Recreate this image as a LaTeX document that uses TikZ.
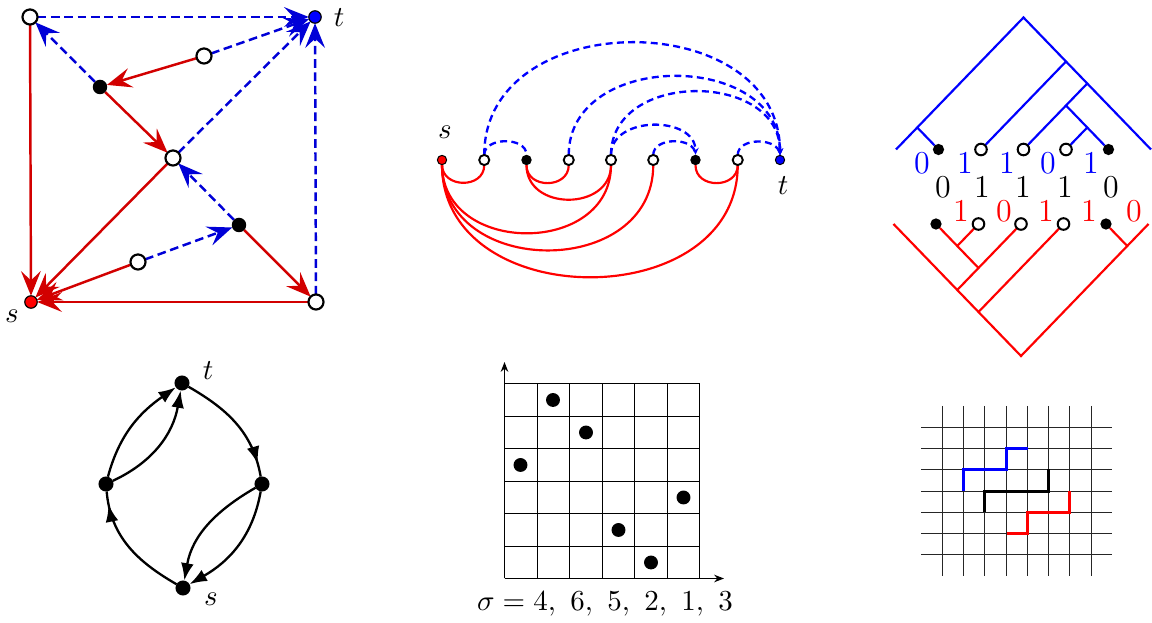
\documentclass[tikz,border=0pt]{standalone}
\usetikzlibrary{arrows.meta,decorations.markings,backgrounds}
\definecolor{dred}{RGB}{210,0,0}
\definecolor{dblue}{RGB}{0,0,215}
\begin{document}
\begin{tikzpicture}[x=0.345pt,y=-0.345pt,
  every node/.style={inner sep=0pt,outer sep=0pt},
  holA/.style={circle,draw=black,fill=white,line width=0.75pt,minimum size=5.2pt},
  dotA/.style={circle,fill=black,minimum size=5pt},
  sA/.style={circle,draw=black,fill=red,line width=0.4pt,minimum size=4.3pt},
  tA/.style={circle,draw=black,fill=blue,line width=0.4pt,minimum size=4.3pt},
  tipA/.style={-{Stealth[length=8.5pt,width=6.8pt,inset=3.2pt]}},
  redA/.style={draw=dred,line width=0.85pt,tipA},
  blueA/.style={draw=dblue,line width=0.85pt,dash pattern=on 3pt off 1.6pt,tipA},
  holB/.style={circle,draw=black,fill=white,line width=0.65pt,minimum size=3.5pt},
  dotB/.style={circle,fill=black,minimum size=3.6pt},
  sB/.style={circle,draw=black,fill=red,line width=0.35pt,minimum size=3.2pt},
  tB/.style={circle,draw=black,fill=blue,line width=0.35pt,minimum size=3.2pt},
  redB/.style={draw=red,line width=0.75pt},
  blueB/.style={draw=blue,line width=0.8pt,dash pattern=on 2.4pt off 1.5pt},
  tipB/.style={-{Stealth[length=2.4pt,width=2.2pt]}},
  holT/.style={circle,draw=black,fill=white,line width=0.7pt,minimum size=4pt},
  dotT/.style={circle,fill=black,minimum size=3.9pt},
  blueT/.style={draw=blue,line width=0.75pt},
  redT/.style={draw=red,line width=0.75pt},
  digit/.style={font=\fontsize{11}{13}\selectfont},
  dotC/.style={circle,fill=black,minimum size=5.2pt},
  edgeC/.style={draw=black,line width=0.8pt,-{Latex[length=6pt,width=4.4pt]}},
  midC/.style={draw=black,line width=0.8pt,postaction={decorate},
    decoration={markings,mark=at position -4.5pt with {\arrow{Latex[length=6pt,width=4.4pt]}}}},
  gridD/.style={draw=black,line width=0.48pt},
  axisD/.style={draw=black,line width=0.48pt,-{Stealth[length=3.4pt,width=2.6pt]}},
  dotD/.style={circle,fill=black,minimum size=4.8pt},
  gridE/.style={draw=black!85,line width=0.38pt},
  pathE/.style={line width=0.9pt,line join=miter}
]
\useasboundingbox (0,0) rectangle (1152,623);

% ---------- panel 1 ----------
\node[holA] (a1) at (30,17) {};
\node[tA] (at) at (315,17) {};
\node[holA] (ao1) at (204,56) {};
\node[dotA] (ab1) at (100,87) {};
\node[holA] (ac) at (173,158) {};
\node[dotA] (ab2) at (239,225) {};
\node[holA] (ao2) at (138,262) {};
\node[sA] (as) at (31,302) {};
\node[holA] (abr) at (316,302) {};
\node (atl) at (339,18) {$t$};
\node (asl) at (12,316) {$s$};
\begin{pgfonlayer}{background}
\draw[blueA] (a1) -- (at);
\draw[redA] (a1) -- (as);
\draw[blueA] (ab1) -- (a1);
\draw[redA] (ao1) -- (ab1);
\draw[blueA] (ao1) -- (at);
\draw[redA] (ab1) -- (ac);
\draw[blueA] (ac) -- (at);
\draw[redA] (ac) -- (as);
\draw[blueA] (ab2) -- (ac);
\draw[blueA] (ao2) -- (ab2);
\draw[redA] (ao2) -- (as);
\draw[redA] (ab2) -- (abr);
\draw[redA] (abr) -- (as);
\draw[blueA] (abr) -- (at);
\end{pgfonlayer}

% ---------- panel 2 ----------
\node[sB] (b0) at (442,160) {};
\node[holB] (b1) at (484.25,160) {};
\node[dotB] (b2) at (526.5,160) {};
\node[holB] (b3) at (568.75,160) {};
\node[holB] (b4) at (611,160) {};
\node[holB] (b5) at (653.25,160) {};
\node[dotB] (b6) at (695.5,160) {};
\node[holB] (b7) at (737.75,160) {};
\node[tB] (b8) at (780,160) {};
\node (bsl) at (445,132) {$s$};
\node (btl) at (783,186) {$t$};
\begin{pgfonlayer}{background}
\draw[redB] (b0) to[out=-90,in=-90,looseness=1.45] (b1);
\draw[redB] (b2) to[out=-90,in=-90,looseness=1.45] (b3);
\draw[redB] (b6) to[out=-90,in=-90,looseness=1.45] (b7);
\draw[redB] (b2) to[out=-90,in=-90,looseness=1.4] (b4);
\draw[redB] (b0) to[out=-90,in=-90,looseness=1.38] (b4);
\draw[redB] (b0) to[out=-90,in=-90,looseness=1.38] (b5);
\draw[redB] (b0) to[out=-90,in=-90,looseness=1.3] (b7);
\draw[blueB] (b1) to[out=90,in=90,looseness=1.1] (b2);
\draw[blueB] (b5) to[out=90,in=90,looseness=1.1] (b6);
\draw[blueB] (b7) to[out=90,in=90,looseness=1.1] (b8);
\draw[blueB,tipB] (b4) to[out=90,in=90,looseness=1.2] (b6);
\draw[blueB,tipB] (b4) to[out=90,in=90,looseness=1.28] (b8);
\draw[blueB,tipB] (b3) to[out=90,in=90,looseness=1.27] (b8);
\draw[blueB,tipB] (b1) to[out=90,in=90,looseness=1.3] (b8);
\end{pgfonlayer}

% ---------- panel 3 (trees) ----------
\coordinate (us0) at (896,149.5);
\coordinate (us6) at (1151,149.5);
\node[dotT] (u1) at (938.5,149.5) {};
\node[holT] (u2) at (981,149.5) {};
\node[holT] (u3) at (1023.5,149.5) {};
\node[holT] (u4) at (1066,149.5) {};
\node[dotT] (u5) at (1108.5,149.5) {};
\coordinate (u01) at (917.25,127.5);
\coordinate (u26) at (1066,61.5);
\coordinate (u36) at (1087.25,83.5);
\coordinate (u45) at (1087.25,127.5);
\coordinate (u35) at (1066,105.5);
\coordinate (u06) at (1023.5,17.5);
\begin{pgfonlayer}{background}
\draw[blueT] (us0) -- (u06) -- (us6);
\draw[blueT] (u1) -- (u01);
\draw[blueT] (u2) -- (u26);
\draw[blueT] (u3) -- (u36);
\draw[blueT] (u4) -- (u45);
\draw[blueT] (u5) -- (u35);
\end{pgfonlayer}
\coordinate (vs0) at (893.5,224);
\coordinate (vs6) at (1148.5,224);
\node[dotT] (v1) at (936,224) {};
\node[holT] (v2) at (978.5,224) {};
\node[holT] (v3) at (1021,224) {};
\node[holT] (v4) at (1063.5,224) {};
\node[dotT] (v5) at (1106,224) {};
\coordinate (v12) at (957.25,246);
\coordinate (v13) at (978.5,268);
\coordinate (v03) at (957.25,290);
\coordinate (v04) at (978.5,312);
\coordinate (v56) at (1127.25,246);
\coordinate (v06) at (1021,356);
\begin{pgfonlayer}{background}
\draw[redT] (vs0) -- (v06) -- (vs6);
\draw[redT] (v1) -- (v13);
\draw[redT] (v2) -- (v12);
\draw[redT] (v3) -- (v03);
\draw[redT] (v4) -- (v04);
\draw[redT] (v5) -- (v56);
\end{pgfonlayer}
\node[digit,text=blue] (n1) at (922,163) {0};
\node[digit,text=blue] (n2) at (965,163) {1};
\node[digit,text=blue] (n3) at (1007,163) {1};
\node[digit,text=blue] (n4) at (1048,163) {0};
\node[digit,text=blue] (n5) at (1091,163) {1};
\node[digit] (m1) at (943,187) {0};
\node[digit] (m2) at (982,187) {1};
\node[digit] (m3) at (1023,187) {1};
\node[digit] (m4) at (1065,187) {1};
\node[digit] (m5) at (1111,187) {0};
\node[digit,text=red] (r1) at (961,211) {1};
\node[digit,text=red] (r2) at (1004,211) {0};
\node[digit,text=red] (r3) at (1046,211) {1};
\node[digit,text=red] (r4) at (1089,211) {1};
\node[digit,text=red] (r5) at (1134,211) {0};

% ---------- panel 4 ----------
\node[dotC] (dt) at (182,383) {};
\node[dotC] (dl) at (106,484) {};
\node[dotC] (dr) at (262,484) {};
\node[dotC] (ds) at (183,588) {};
\node (dtl) at (208,371) {$t$};
\node (dsl) at (211,599) {$s$};
\draw[edgeC] (dl) to[out=75,in=-145] (dt);
\draw[edgeC] (dl) to[out=25,in=-100] (dt);
\draw[midC] (dt) to[out=-30,in=100] (dr);
\draw[edgeC] (dr) to[out=-100,in=30] (ds);
\draw[edgeC] (dr) to[out=-150,in=80] (ds);
\draw[midC] (ds) to[out=150,in=-85] (dl);

% ---------- panel 5 ----------
\foreach \p in {504.5,537.5,569.5,602.5,634.5,667.5,699.5} {
  \draw[gridD] (\p,383.5) -- (\p,578.5);
}
\foreach \q in {383.5,416.5,448.5,481.5,513.5,546.5,578.5} {
  \draw[gridD] (504.5,\q) -- (699.5,\q);
}
\draw[axisD] (504.5,578.5) -- (504.5,362);
\draw[axisD] (504.5,578.5) -- (724,578.5);
\node[dotD] (p1) at (520.5,465) {};
\node[dotD] (p2) at (553,400) {};
\node[dotD] (p3) at (586,432.5) {};
\node[dotD] (p4) at (618.5,530) {};
\node[dotD] (p5) at (651,562.5) {};
\node[dotD] (p6) at (683.5,497.5) {};
\node (sig) at (605,604) {$\sigma = 4,\ 6,\ 5,\ 2,\ 1,\ 3$};

% ---------- panel 6 ----------
\foreach \p in {942.5,963.5,984.5,1006.5,1027.5,1048.5,1069.5,1091.5} {
  \draw[gridE] (\p,406) -- (\p,576);
}
\foreach \q in {427.5,448.5,469.5,491.5,512.5,533.5,554.5} {
  \draw[gridE] (921,\q) -- (1112,\q);
}
\draw[pathE,blue] (963.5,491.5) -- (963.5,469.5) -- (1006.5,469.5) -- (1006.5,448.5) -- (1027.5,448.5);
\draw[pathE,black] (984.5,512.5) -- (984.5,491.5) -- (1048.5,491.5) -- (1048.5,469.5);
\draw[pathE,red] (1006.5,533.5) -- (1027.5,533.5) -- (1027.5,512.5) -- (1069.5,512.5) -- (1069.5,491.5);
\end{tikzpicture}
\end{document}
